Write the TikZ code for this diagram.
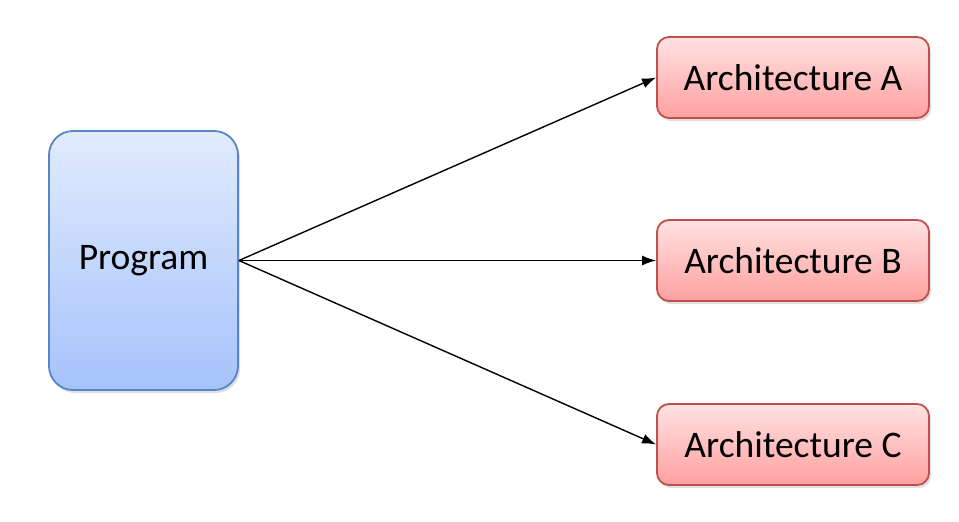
\documentclass[tikz,border=0pt]{standalone}
\usepackage{fontspec}
\setmainfont{Carlito}
\usetikzlibrary{shadows,arrows.meta}
\definecolor{progtop}{HTML}{E2EBFD}
\definecolor{progbot}{HTML}{A5C3FB}
\definecolor{progline}{HTML}{5686C6}
\definecolor{archtop}{HTML}{FFE2E2}
\definecolor{archbot}{HTML}{FFA0A0}
\definecolor{archline}{HTML}{C0504D}
\newcommand{\lowtext}[1]{\raisebox{-3pt}{#1}}
\tikzset{
  progbox/.style={draw=progline, line width=1.8pt, rounded corners=24pt,
    top color=progtop, bottom color=progbot, minimum width=189pt, minimum height=259pt,
    drop shadow={opacity=0.25, shadow xshift=2pt, shadow yshift=-3pt},
    font=\fontsize{37.5}{44}\selectfont, inner sep=0pt},
  archbox/.style={draw=archline, line width=1.8pt, rounded corners=12pt,
    top color=archtop, bottom color=archbot, minimum width=272pt, minimum height=81pt,
    drop shadow={opacity=0.25, shadow xshift=2pt, shadow yshift=-3pt},
    font=\fontsize{37.5}{44}\selectfont, inner sep=0pt},
  conn/.style={-{Latex[length=14pt,width=10pt]}, line width=1.4pt, black}
}
\begin{document}
\begin{tikzpicture}[x=1pt,y=-1pt]
\useasboundingbox (0,0) rectangle (959,522);
\node[progbox] (prog) at (143.5,260.5) {\lowtext{Program}};
\node[archbox] (a) at (793,77.5) {\lowtext{Architecture A}};
\node[archbox] (b) at (793,260.5) {\lowtext{Architecture B}};
\node[archbox] (c) at (793,444.5) {\lowtext{Architecture C}};
\coordinate (src) at (prog.east);
\draw[conn] (src) -- (a.west);
\draw[conn] (src) -- (b.west);
\draw[conn] (src) -- (c.west);
\end{tikzpicture}
\end{document}
